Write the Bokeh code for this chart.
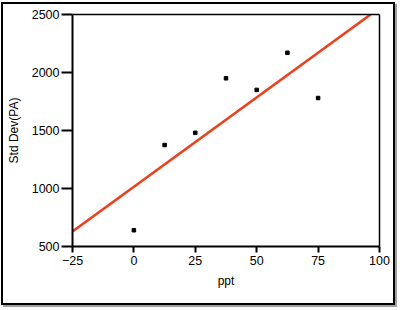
from bokeh.plotting import figure
from bokeh.models import Range1d, FixedTicker, LinearAxis
from bokeh.layouts import column
from bokeh.embed import file_html
from bokeh.resources import INLINE

# data
ppt = [0, 12.5, 25, 37.5, 50, 62.5, 75]
std_dev = [640, 1375, 1480, 1950, 1850, 2170, 1780]
fit_x = [-25, 96.4]
fit_y = [630, 2500]
x_ticks = [-25, 0, 25, 50, 75, 100]
y_ticks = [500, 1000, 1500, 2000, 2500]

FONT = "Liberation Sans"

p = figure(width=390, height=299, output_backend="svg", toolbar_location=None,
           x_range=Range1d(-25, 100), y_range=Range1d(500, 2500),
           min_border_left=67, min_border_right=14, min_border_top=10, min_border_bottom=57)
p.xgrid.visible = False
p.ygrid.visible = False
p.outline_line_color = None

for ax in (p.xaxis[0], p.yaxis[0]):
    ax.axis_line_width = 2
    ax.major_tick_line_width = 2
    ax.minor_tick_line_color = None
    ax.major_tick_in = 0
    ax.major_label_text_font = FONT
    ax.major_label_text_font_size = "12.5px"
    ax.major_label_text_color = "black"
    ax.axis_label_text_font = FONT
    ax.axis_label_text_font_size = "12px"
    ax.axis_label_text_font_style = "normal"
    ax.axis_label_text_color = "black"

p.xaxis.ticker = FixedTicker(ticks=x_ticks)
p.yaxis.ticker = FixedTicker(ticks=y_ticks)
p.xaxis.major_tick_out = 6
p.yaxis.major_tick_out = 11
p.xaxis.major_label_standoff = 3
p.yaxis.major_label_standoff = 2
p.xaxis.axis_label = "ppt"
p.yaxis.axis_label = "Std Dev(PA)"
p.xaxis.axis_label_standoff = 6
p.yaxis.axis_label_standoff = 8

# top and right frame lines
for loc in ("above", "right"):
    a = LinearAxis(ticker=FixedTicker(ticks=[]), axis_line_width=1.5,
                   major_tick_line_color=None, minor_tick_line_color=None,
                   major_label_text_font_size="0px")
    p.add_layout(a, loc)

p.line(fit_x, fit_y, line_color="#e8431e", line_width=2.6)
p.scatter(ppt, std_dev, marker="square", size=3.5, color="black")

layout = column(p, margin=(2, 0, 0, 1),
                styles={"border": "2px solid black", "box-shadow": "2px 2px 0 #a0a0a0"})

open("out.html", "w").write(file_html(layout, INLINE))
